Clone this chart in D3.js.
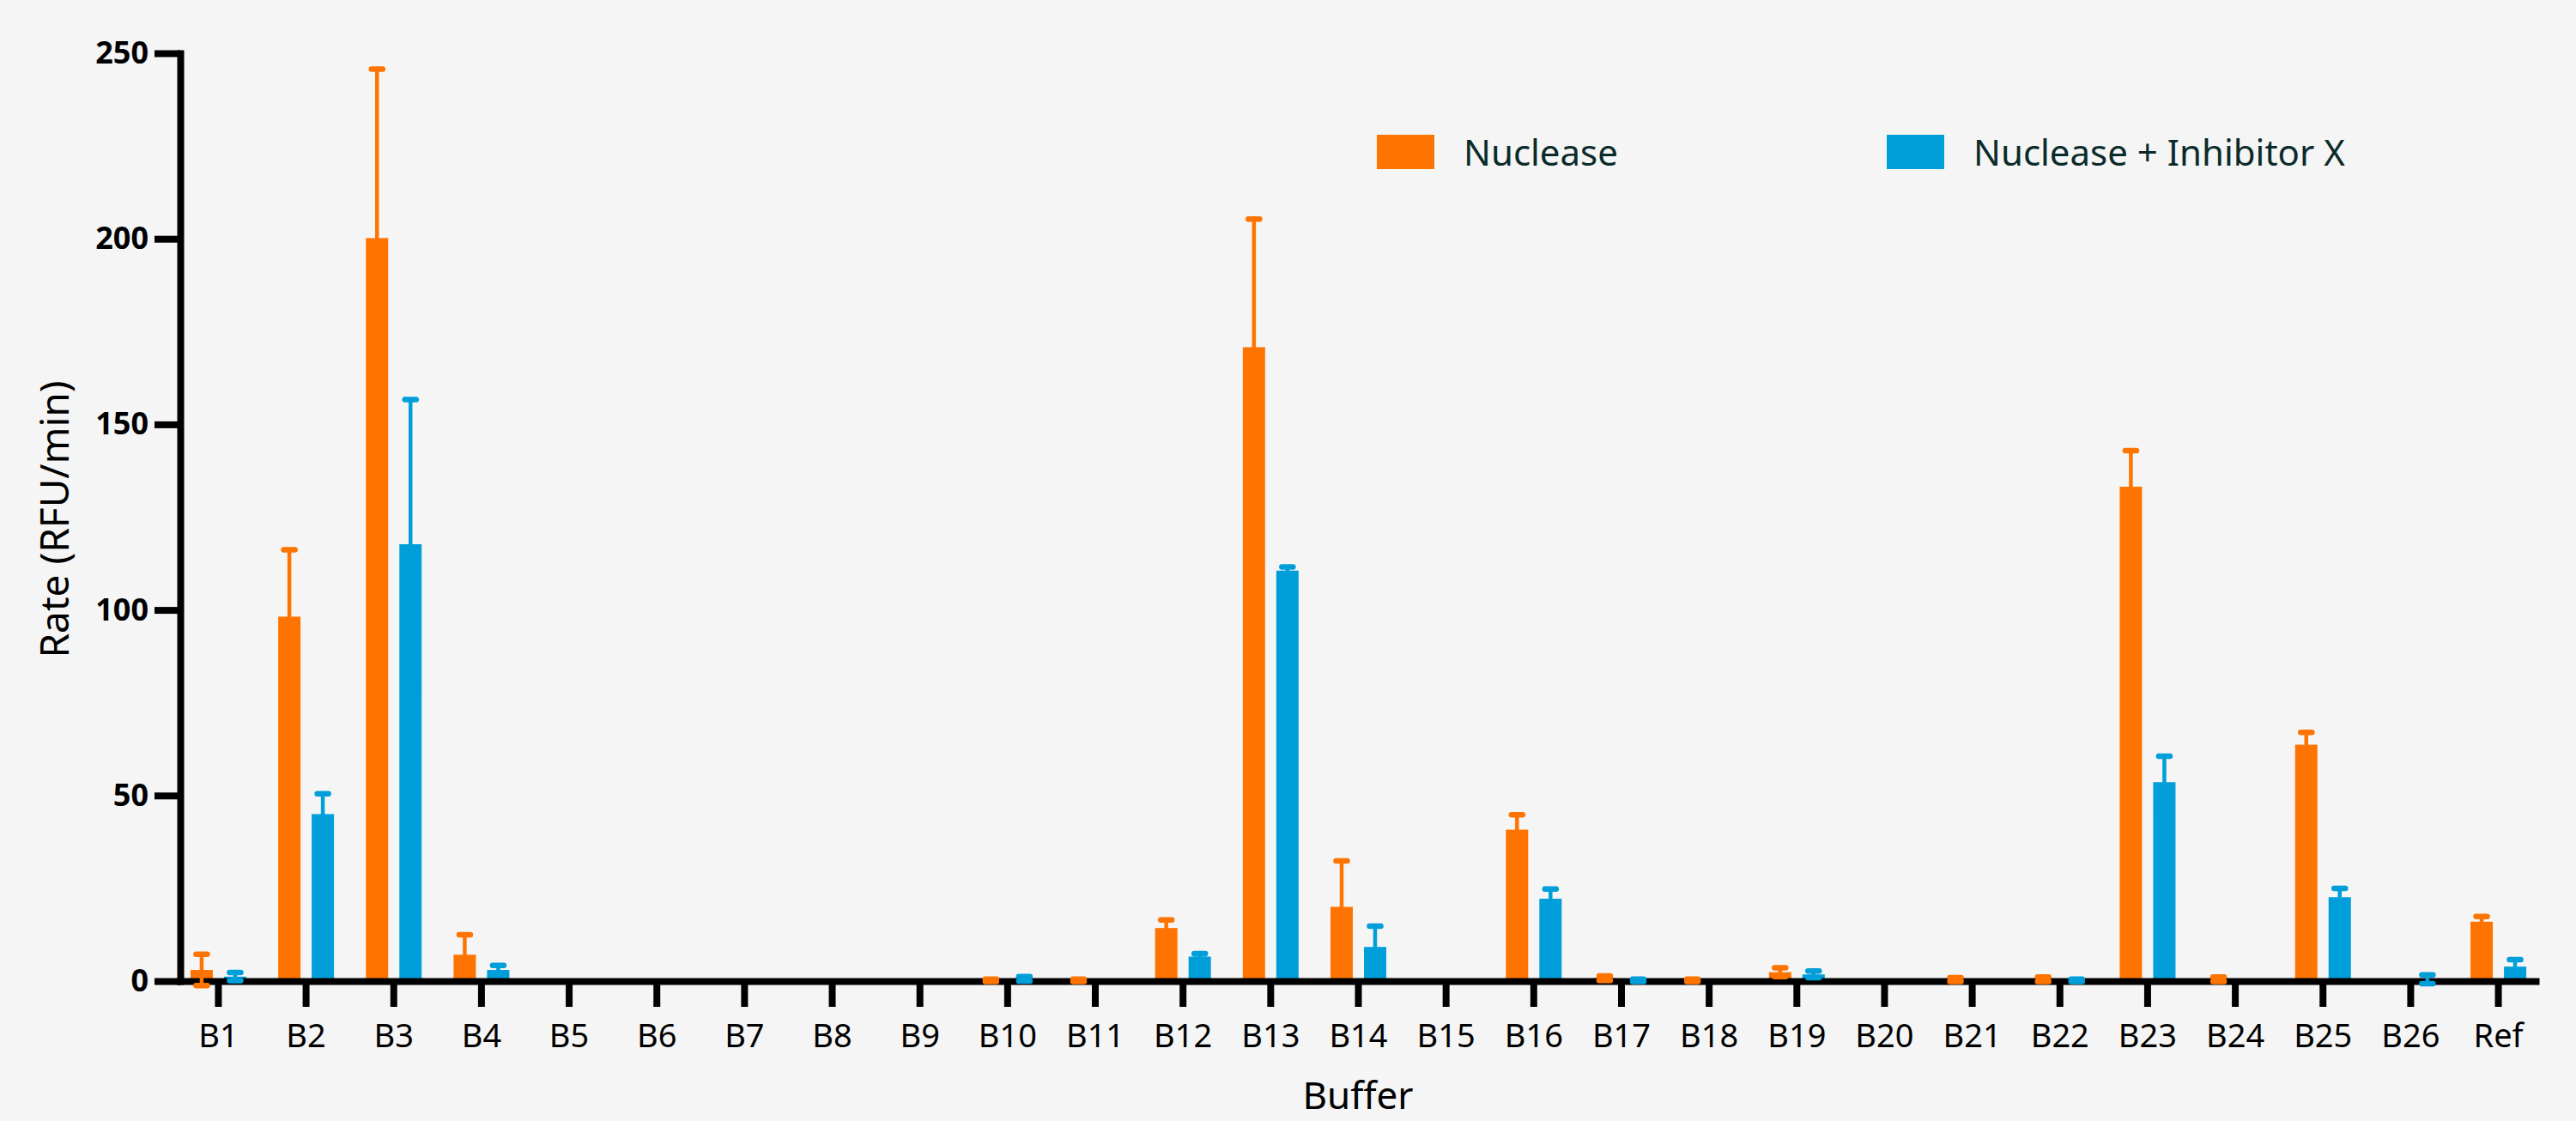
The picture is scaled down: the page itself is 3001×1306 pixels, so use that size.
<!DOCTYPE html>
<html>
<head>
<meta charset="utf-8">
<script src="https://cdn.jsdelivr.net/npm/d3@7"></script>
<style>
  html, body { margin: 0; padding: 0; background: #f5f5f5; }
  svg { display: block; }
  text { font-family: "Noto Sans", "Open Sans", sans-serif; }
</style>
</head>
<body>
<svg id="chart" width="3001" height="1306"></svg>
<script>
const categories = ["B1","B2","B3","B4","B5","B6","B7","B8","B9","B10","B11","B12","B13","B14","B15","B16","B17","B18","B19","B20","B21","B22","B23","B24","B25","B26","Ref"];
const nuclease    = [3.0, 98.2, 200.2, 7.1, null, null, null, null, null, 0.2, 0.2, 14.3, 170.8, 20.0, null, 40.8, 0.8, 0.2, 2.4, null, 0.4, 0.5, 133.2, 0.5, 63.7, null, 16.0];
const nucleaseErr = [4.2, 18.0, 45.5, 5.4, null, null, null, null, null, 0.3, 0.3, 2.2, 34.5, 12.4, null, 4.0, 0.6, 0.3, 1.2, null, 0.5, 0.6, 9.7, 0.6, 3.3, null, 1.4];
const inhibitor    = [1.2, 45.0, 117.7, 3.0, null, null, null, null, null, 0.6, null, 6.6, 110.6, 9.2, null, 22.2, 0.2, null, 1.8, null, null, 0.2, 53.6, null, 22.6, 0.5, 3.9];
const inhibitorErr = [1.1, 5.5, 39.0, 1.2, null, null, null, null, null, 0.6, null, 0.8, 1.0, 5.6, null, 2.6, 0.3, null, 0.9, null, null, 0.3, 7.0, null, 2.4, 1.2, 1.9];
const yTicks = [0, 50, 100, 150, 200, 250];
const seriesNames = ["Nuclease", "Nuclease + Inhibitor X"];
const seriesColors = ["#ff7400", "#009fd9"];

const svg = d3.select("#chart");
svg.append("rect").attr("width", 3001).attr("height", 1306).attr("fill", "#f5f5f5");

const x = d3.scalePoint().domain(categories).range([210, 2954]).padding(0.43);
const y = d3.scaleLinear().domain([0, 250]).range([1143, 62]);

const barW = 26;
const offsets = [-19, 20];
const series = [
  {vals: nuclease, errs: nucleaseErr},
  {vals: inhibitor, errs: inhibitorErr}
];

// bars
series.forEach((s, si) => {
  const data = categories.map((c, i) => ({c, v: s.vals[i], e: s.errs[i]})).filter(d => d.v != null);
  svg.append("g").selectAll("rect").data(data).join("rect")
    .attr("x", d => x(d.c) + offsets[si] - barW / 2)
    .attr("y", d => y(d.v))
    .attr("width", barW)
    .attr("height", d => y(0) - y(d.v))
    .attr("fill", seriesColors[si]);
});

// axes
const yAxis = d3.axisLeft(y).tickValues(yTicks).tickSize(30).tickSizeOuter(0).tickPadding(7);
const gy = svg.append("g").attr("transform", "translate(210,0)").call(yAxis);
gy.select(".domain").attr("stroke", "#000").attr("stroke-width", 8).attr("stroke-linecap", "square");
gy.selectAll(".tick line").attr("stroke", "#000").attr("stroke-width", 8);
gy.selectAll(".tick text").attr("font-size", 36).attr("font-weight", 700).attr("fill", "#000")
  .attr("font-family", "'Noto Sans', sans-serif");

const xAxis = d3.axisBottom(x).tickSize(30).tickSizeOuter(0).tickPadding(20);
const gx = svg.append("g").attr("transform", "translate(0,1143)").call(xAxis);
gx.select(".domain").attr("stroke", "#000").attr("stroke-width", 8).attr("stroke-linecap", "square");
gx.selectAll(".tick line").attr("stroke", "#000").attr("stroke-width", 8);
gx.selectAll(".tick text").attr("font-size", 38).attr("fill", "#000")
  .attr("font-family", "'Noto Sans', sans-serif");

// error bars (drawn on top, same colour as bars)
series.forEach((s, si) => {
  const data = categories.map((c, i) => ({c, v: s.vals[i], e: s.errs[i]})).filter(d => d.v != null && d.e != null);
  const g = svg.append("g").attr("stroke", seriesColors[si]).attr("stroke-linecap", "round");
  g.selectAll("line.v").data(data).join("line").attr("class", "v")
    .attr("x1", d => x(d.c) + offsets[si]).attr("x2", d => x(d.c) + offsets[si])
    .attr("y1", d => y(d.v - d.e)).attr("y2", d => y(d.v + d.e))
    .attr("stroke-width", 4.5);
  g.selectAll("line.top").data(data).join("line").attr("class", "top")
    .attr("x1", d => x(d.c) + offsets[si] - 6.5).attr("x2", d => x(d.c) + offsets[si] + 6.5)
    .attr("y1", d => y(d.v + d.e)).attr("y2", d => y(d.v + d.e))
    .attr("stroke-width", 6.5);
  g.selectAll("line.bot").data(data).join("line").attr("class", "bot")
    .attr("x1", d => x(d.c) + offsets[si] - 6.5).attr("x2", d => x(d.c) + offsets[si] + 6.5)
    .attr("y1", d => y(d.v - d.e)).attr("y2", d => y(d.v - d.e))
    .attr("stroke-width", 6.5);
});

// axis titles
svg.append("text")
  .attr("transform", "translate(80,605) rotate(-90)")
  .attr("text-anchor", "middle")
  .attr("font-size", 46)
  .attr("fill", "#000")
  .text("Rate (RFU/min)");

svg.append("text")
  .attr("x", 1582).attr("y", 1292)
  .attr("text-anchor", "middle")
  .attr("font-size", 44)
  .attr("fill", "#000")
  .text("Buffer");

// legend
const legendX = [1604, 2198];
seriesNames.forEach((name, i) => {
  svg.append("rect").attr("x", legendX[i]).attr("y", 157).attr("width", 67).attr("height", 40).attr("fill", seriesColors[i]);
  svg.append("text").attr("x", legendX[i] + 101).attr("y", 193)
    .attr("font-size", 42).attr("fill", "#0b2b2b").text(name);
});
</script>
</body>
</html>
